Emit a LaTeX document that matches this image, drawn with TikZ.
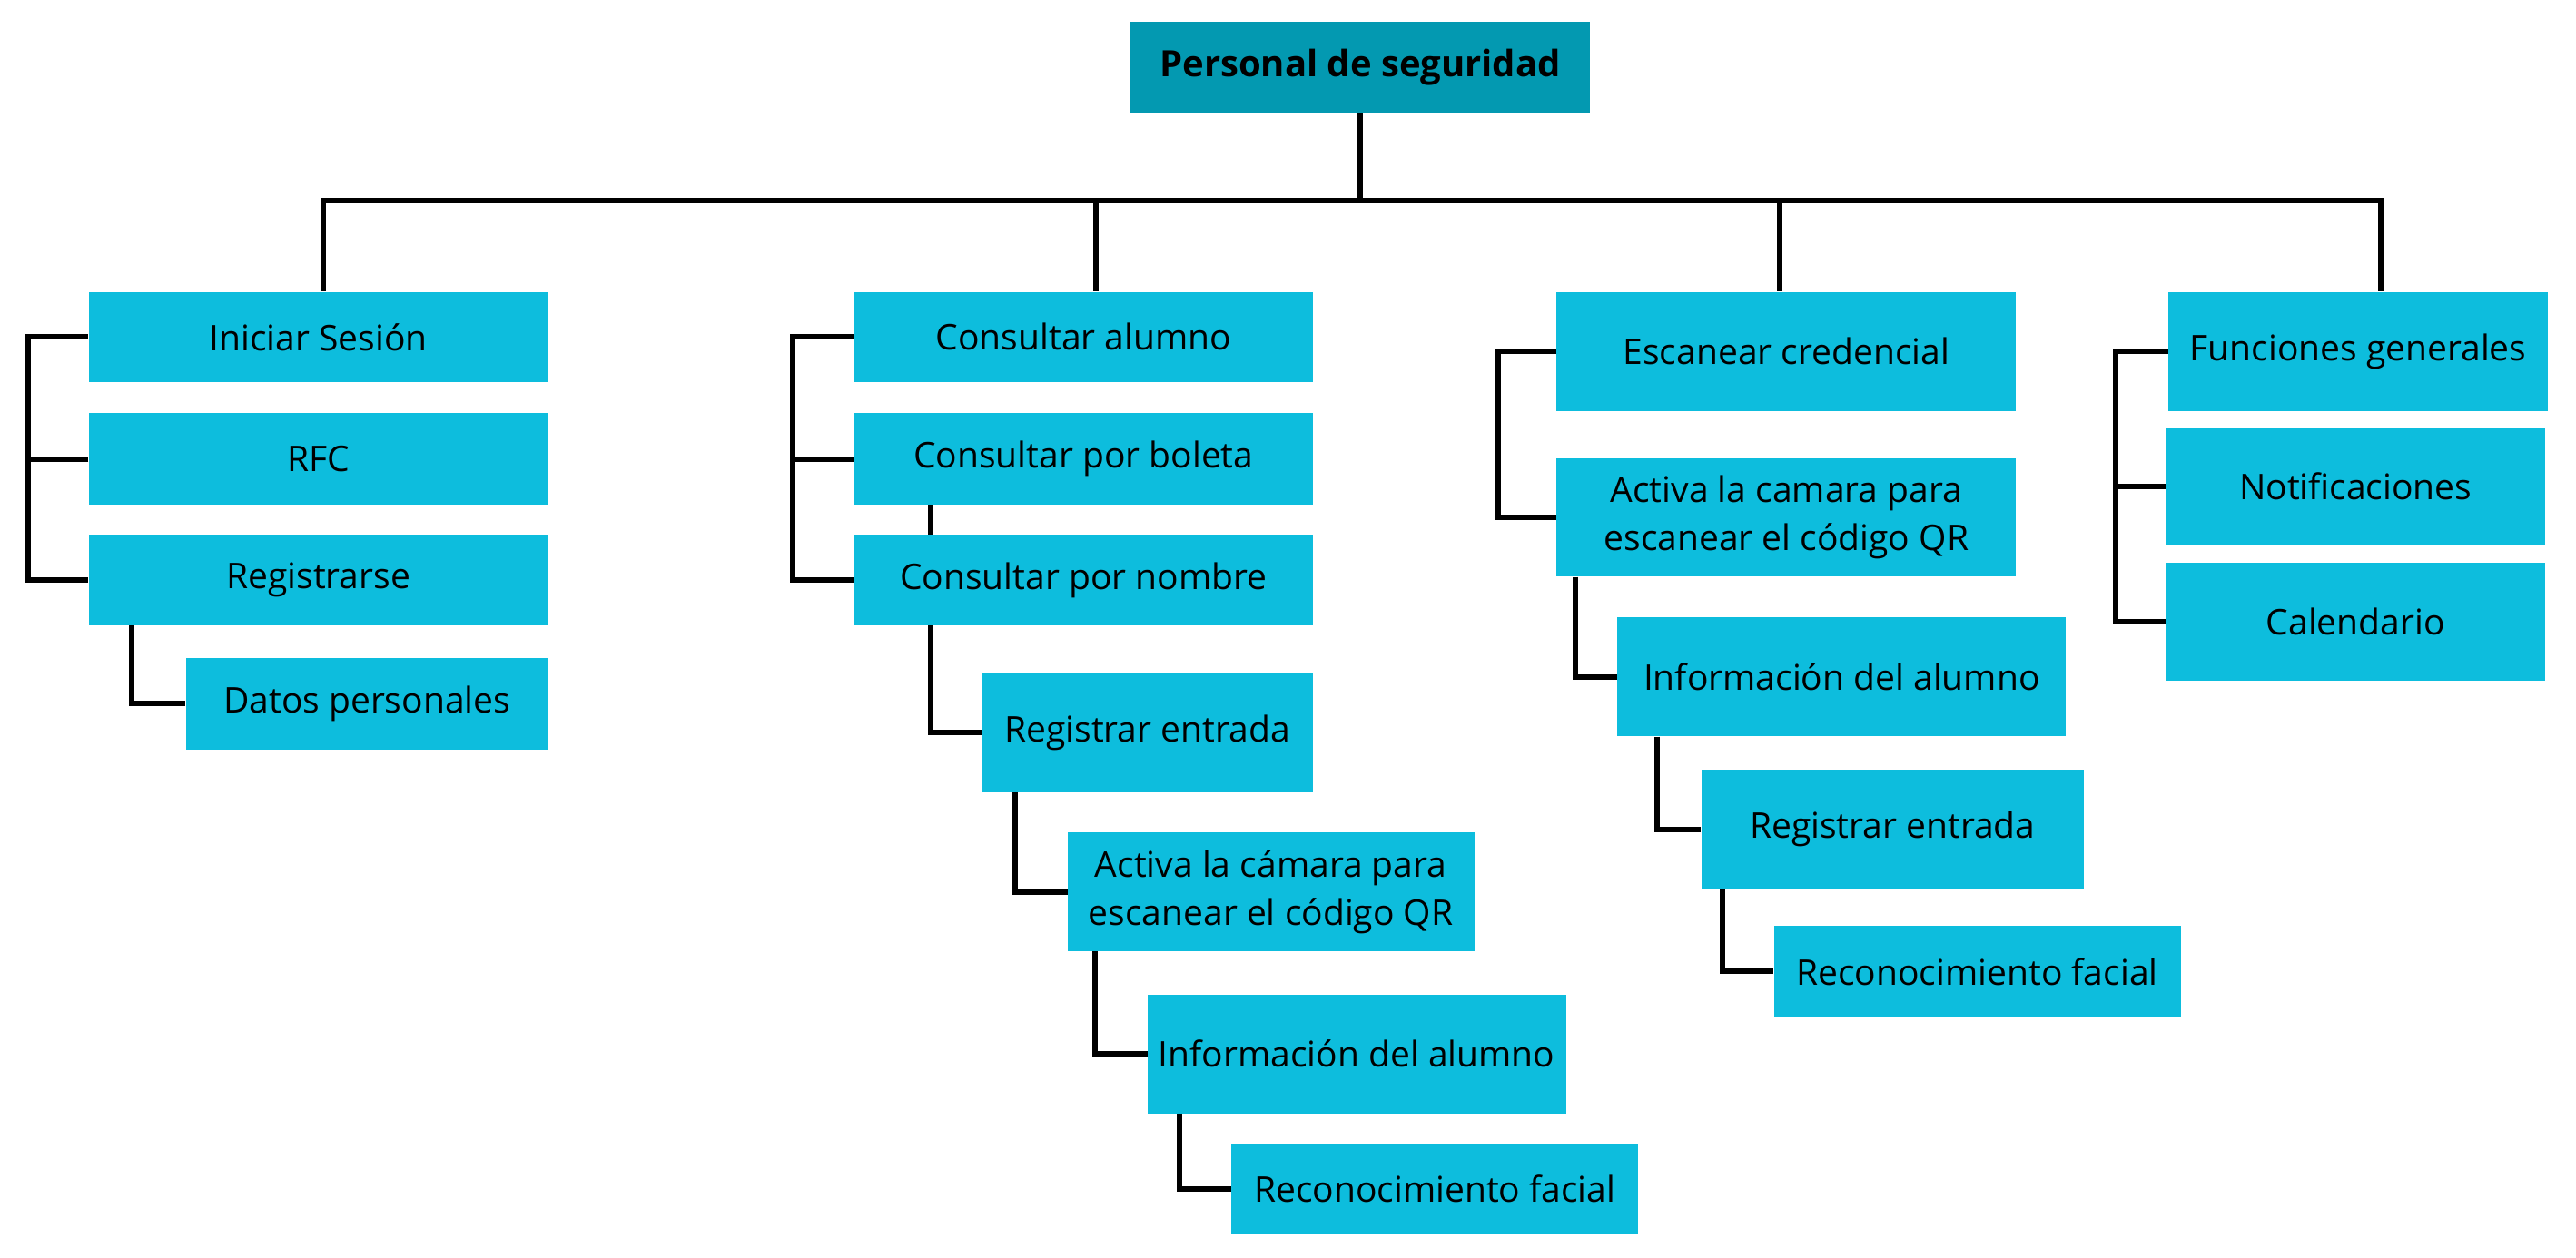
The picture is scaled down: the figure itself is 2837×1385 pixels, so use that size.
\documentclass[tikz,border=0pt]{standalone}
\usepackage{fontspec}
\setmainfont{Open Sans}
\definecolor{rootcol}{HTML}{0399B1}
\definecolor{boxcol}{HTML}{0DBDDD}
\begin{document}
\begin{tikzpicture}[x=1pt,y=-1pt,
  box/.style={fill=boxcol,draw=none,inner sep=0pt,align=center,text=black,
    font=\fontsize{39}{53}\selectfont},
  rootbox/.style={fill=rootcol,draw=none,inner sep=0pt,align=center,text=black,
    font=\fontsize{40}{53}\selectfont\bfseries},
  conn/.style={draw=black,line width=6pt,line join=miter}]
\useasboundingbox[fill=white] (0,0) rectangle (2837,1385);
% nodes
\node[rootbox,minimum width=506pt,minimum height=101pt] (root) at (1498,74.5) {Personal de seguridad};
\node[box,minimum width=506pt,minimum height=99.7pt] (is) at (350.6,371.35) {Iniciar Sesión};
\node[box,minimum width=506pt,minimum height=100.3pt] (rfc) at (350.6,505.55) {RFC};
\node[box,minimum width=506pt,minimum height=99.7pt] (reg) at (350.6,639.15) {Registrarse};
\node[box,minimum width=399pt,minimum height=100.8pt] (dp) at (404.15,775.2) {Datos personales};
\node[box,minimum width=506pt,minimum height=99.7pt] (ca) at (1193.35,371.35) {Consultar alumno};
\node[box,minimum width=506pt,minimum height=100.3pt] (cb) at (1193.35,505.55) {Consultar por boleta};
\node[box,minimum width=506pt,minimum height=99.7pt] (cn) at (1193.35,639.15) {Consultar por nombre};
\node[box,minimum width=365pt,minimum height=130.7pt] (re2) at (1263.5,807.25) {Registrar entrada};
\node[box,minimum width=447.7pt,minimum height=131.1pt] (ac2) at (1399.65,982.65) {Activa la cámara para\\escanear el código QR};
\node[box,minimum width=460.7pt,minimum height=130.7pt] (ia2) at (1494.15,1161.15) {Información del alumno};
\node[box,minimum width=447.6pt,minimum height=99.6pt] (rf2) at (1580.2,1309.9) {Reconocimiento facial};
\node[box,minimum width=506pt,minimum height=131.2pt] (ec) at (1967.35,387.1) {Escanear credencial};
\node[box,minimum width=506pt,minimum height=130.6pt] (ac3) at (1967.35,570) {Activa la camara para\\escanear el código QR};
\node[box,minimum width=494pt,minimum height=131pt] (ia3) at (2028.3,745.8) {Información del alumno};
\node[box,minimum width=421.5pt,minimum height=131.3pt] (re3) at (2084.25,913.65) {Registrar entrada};
\node[box,minimum width=448pt,minimum height=100.7pt] (rf3) at (2177.5,1070.35) {Reconocimiento facial};
\node[box,minimum width=418pt,minimum height=131.2pt] (fg) at (2597,387.1) {Funciones generales};
\node[box,minimum width=418pt,minimum height=130.1pt] (nt) at (2594.2,536.15) {Notificaciones};
\node[box,minimum width=418pt,minimum height=130.7pt] (cal) at (2594.2,684.95) {Calendario};
% helper coordinates
\coordinate (busL) at (356,221);
\coordinate (busR) at (2622,221);
\coordinate (s2) at (1207,221);
\coordinate (s3) at (1960,221);
\coordinate (bk1) at (31.4,0);
\coordinate (bk2) at (873.4,0);
\coordinate (bk3) at (1650.2,0);
\coordinate (bk4) at (2330.3,0);
\coordinate (v1) at (145.4,0);
\coordinate (v2) at (1024.5,0);
\coordinate (v3) at (1118.4,0);
\coordinate (v4) at (1206.4,0);
\coordinate (v5) at (1299,0);
\coordinate (v6) at (1735.4,0);
\coordinate (v7) at (1825,0);
\coordinate (v8) at (1896.5,0);
% top tree
\draw[conn] (root.south) -- (root.south |- busL);
\draw[conn] (busL |- is.north) -- (busL) -- (busR) -- (busR |- fg.north);
\draw[conn] (s2) -- (s2 |- ca.north);
\draw[conn] (s3) -- (s3 |- ec.north);
% column 1
\draw[conn] (is.west) -- (is.west -| bk1) -- (reg.west -| bk1) -- (reg.west);
\draw[conn] (rfc.west) -- (rfc.west -| bk1);
\draw[conn] (reg.south -| v1) -- (dp.west -| v1) -- (dp.west);
% column 2
\draw[conn] (ca.west) -- (ca.west -| bk2) -- (cn.west -| bk2) -- (cn.west);
\draw[conn] (cb.west) -- (cb.west -| bk2);
\draw[conn] (cb.south -| v2) -- (cn.north -| v2);
\draw[conn] (cn.south -| v2) -- (re2.west -| v2) -- (re2.west);
\draw[conn] (re2.south -| v3) -- (ac2.west -| v3) -- (ac2.west);
\draw[conn] (ac2.south -| v4) -- (ia2.west -| v4) -- (ia2.west);
\draw[conn] (ia2.south -| v5) -- (rf2.west -| v5) -- (rf2.west);
% column 3
\draw[conn] (ec.west) -- (ec.west -| bk3) -- (ac3.west -| bk3) -- (ac3.west);
\draw[conn] (ac3.south -| v6) -- (ia3.west -| v6) -- (ia3.west);
\draw[conn] (ia3.south -| v7) -- (re3.west -| v7) -- (re3.west);
\draw[conn] (re3.south -| v8) -- (rf3.west -| v8) -- (rf3.west);
% column 4
\draw[conn] (fg.west) -- (fg.west -| bk4) -- (cal.west -| bk4) -- (cal.west);
\draw[conn] (nt.west) -- (nt.west -| bk4);
\end{tikzpicture}
\end{document}
